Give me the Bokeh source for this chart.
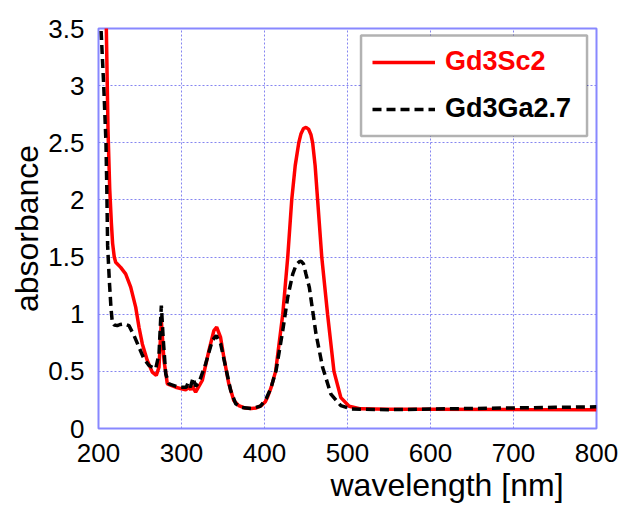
from bokeh.plotting import figure
from bokeh.models import (FixedTicker, Legend, LegendItem, Title, BoxAnnotation)
from bokeh.embed import file_html
from bokeh.resources import INLINE

# ---- data ----
wl_sc = [209.2, 211.5, 213.5, 215.5, 217, 219, 220.7, 226.7, 232.7, 238.8, 244.8, 248.8,
         252.8, 258.8, 264.8, 269.6, 272.9, 275.7, 278.9, 282.9, 293, 305, 309, 311, 313,
         317, 325, 333, 339, 342.4, 347, 351, 357, 363, 369, 376, 384, 390, 396, 401, 404,
         408, 413.4, 422, 428, 432.8, 437, 441.3, 444, 447, 450, 453, 456, 458, 461, 464,
         469, 476, 483.7, 492, 502, 516, 550, 600, 700, 800]
abs_sc = [3.6, 2.6, 2.1, 1.8, 1.62, 1.5, 1.455, 1.41, 1.353, 1.237, 1.062, 0.886,
          0.74, 0.595, 0.493, 0.464, 0.537, 0.945, 0.595, 0.391, 0.361, 0.338, 0.36, 0.34, 0.37,
          0.318, 0.42, 0.682, 0.857, 0.886, 0.8, 0.624, 0.391, 0.245, 0.2, 0.18, 0.175, 0.18,
          0.2, 0.235, 0.28, 0.36, 0.5, 1.0, 1.5, 2.0, 2.3, 2.5, 2.58, 2.625, 2.635, 2.62,
          2.57, 2.5, 2.3, 2.0, 1.5, 1.0, 0.5, 0.27, 0.195, 0.172, 0.168, 0.168, 0.166, 0.165]

wl_ga = [202, 203, 206.3, 209, 210, 211, 213, 215, 216.6, 219, 222.6, 226, 230.7, 236.7,
         242.8, 248.8, 254.8, 260.8, 268.9, 272.9, 275.7, 278.1, 281, 284.9, 297, 305.8,
         307.9, 310.7, 313.9, 317, 321, 329.1, 337.1, 341.9, 347.2, 353.2, 359.3, 365.3,
         372, 384, 395, 402, 408, 414, 422, 428, 434, 438, 442, 444, 447, 450, 454, 462,
         470, 480, 492, 504, 520, 550, 600, 650, 700, 750, 800]
abs_ga = [3.6, 3.5, 3.0, 2.5, 2.1, 1.6, 1.3, 1.06, 0.93, 0.905, 0.9, 0.91, 0.916, 0.9,
          0.814, 0.711, 0.61, 0.551, 0.522, 0.653, 1.076, 0.77, 0.478, 0.391, 0.361, 0.361,
          0.40, 0.36, 0.443, 0.37, 0.40, 0.566, 0.77, 0.814, 0.74, 0.536, 0.332, 0.216,
          0.185, 0.175, 0.195, 0.26, 0.36, 0.51, 0.857, 1.15, 1.35, 1.43, 1.46, 1.465, 1.44,
          1.35, 1.235, 0.83, 0.536, 0.30, 0.2, 0.172, 0.168, 0.165, 0.17, 0.175, 0.18,
          0.185, 0.19]

x_ticks = [200, 300, 400, 500, 600, 700, 800]
x_tick_labels = ["200", "300", "400", "500", "600", "700", "800"]
y_ticks = [0, 0.5, 1, 1.5, 2, 2.5, 3, 3.5]
y_tick_labels = ["0", "0.5", "1", "1.5", "2", "2.5", "3", "3.5"]

series_names = ["Gd3Sc2", "Gd3Ga2.7"]
x_title = "wavelength [nm]"
y_title = "absorbance"

FONT = "Liberation Sans"
GRID = "#8585f0"

p = figure(width=622, height=506, x_range=(200, 800), y_range=(0, 3.5),
           output_backend="svg", toolbar_location=None,
           min_border_left=98, min_border_right=26, min_border_top=28,
           min_border_bottom=78)

p.background_fill_color = "white"
p.border_fill_color = "white"
p.outline_line_color = "#8888ff"
p.outline_line_width = 2

p.xaxis.ticker = FixedTicker(ticks=x_ticks)
p.yaxis.ticker = FixedTicker(ticks=y_ticks)
p.xaxis.major_label_overrides = dict(zip(x_ticks, x_tick_labels))
p.yaxis.major_label_overrides = dict(zip(y_ticks, y_tick_labels))

for ax in (p.xaxis, p.yaxis):
    ax.axis_line_color = None
    ax.major_tick_line_color = None
    ax.minor_tick_line_color = None
    ax.major_tick_out = 0
    ax.major_tick_in = 0
    ax.major_label_text_font = FONT
    ax.major_label_text_font_size = "26px"
    ax.major_label_text_color = "black"

p.xaxis.major_label_standoff = 15
p.yaxis.major_label_standoff = 14

p.yaxis.axis_label = y_title
p.yaxis.axis_label_text_font = FONT
p.yaxis.axis_label_text_font_size = "32px"
p.yaxis.axis_label_text_font_style = "normal"
p.yaxis.axis_label_text_color = "black"
p.yaxis.axis_label_standoff = 0

p.grid.grid_line_color = GRID
p.grid.grid_line_dash = "2 2"
p.grid.grid_line_width = 1

r_sc = p.line(wl_sc, abs_sc, line_color="#ff0000", line_width=3.5)
r_ga = p.line(wl_ga, abs_ga, line_color="black", line_width=3.5, line_dash="9 5")

# x-axis title, shifted to the right as in the reference
p.add_layout(Title(text=x_title, align="left", offset=232, standoff=0,
                   text_line_height=0.85,
                   text_font=FONT, text_font_size="32px", text_font_style="normal",
                   text_color="black"), "below")

# legend frame
p.add_layout(BoxAnnotation(left=516.3, right=788.6, top=3.439, bottom=2.559,
                           fill_color="white", fill_alpha=1.0,
                           line_color="black", line_width=2.5))

leg_a = Legend(items=[LegendItem(label=series_names[0], renderers=[r_sc])],
               location=(274, 351))
leg_b = Legend(items=[LegendItem(label=series_names[1], renderers=[r_ga])],
               location=(274, 304))
for lg, col in ((leg_a, "#ff0000"), (leg_b, "black")):
    lg.label_text_color = col
    lg.label_text_font = FONT
    lg.label_text_font_style = "bold"
    lg.label_text_font_size = "27px"
    lg.glyph_width = 63
    lg.glyph_height = 30
    lg.label_height = 30
    lg.label_standoff = 10
    lg.padding = 0
    lg.margin = 0
    lg.border_line_color = None
    lg.background_fill_alpha = 0
    p.add_layout(lg)

open("out.html", "w").write(file_html(p, INLINE))
